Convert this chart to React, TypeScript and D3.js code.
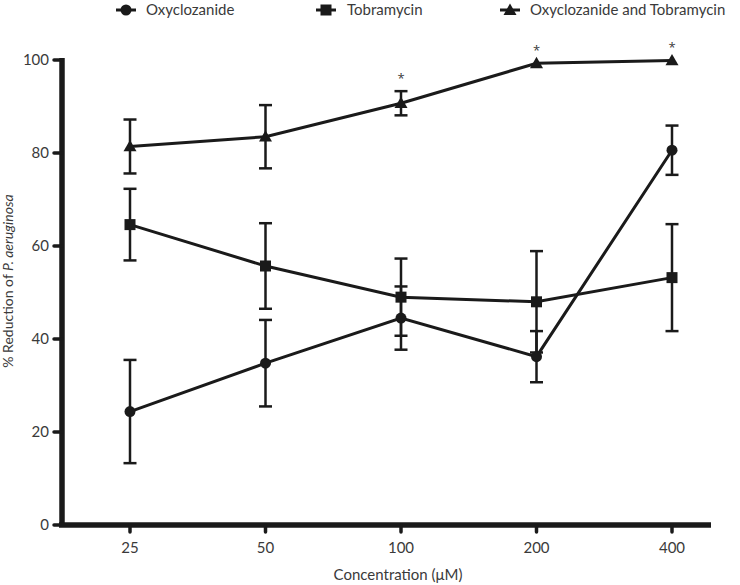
import React from "react";
import * as d3 from "d3";

const concentrations = ["25", "50", "100", "200", "400"];
const oxyMean = [24.4, 34.8, 44.5, 36.2, 80.6];
const oxyErr = [11.1, 9.3, 6.8, 5.5, 5.3];
const tobMean = [64.6, 55.7, 49.0, 48.0, 53.2];
const tobErr = [7.7, 9.2, 8.3, 10.9, 11.5];
const comboMean = [81.4, 83.5, 90.7, 99.3, 99.9];
const comboErr = [5.8, 6.8, 2.6, 0, 0];
const significant = [false, false, true, true, true];
const yTicks = [0, 20, 40, 60, 80, 100];

const W = 740;
const H = 585;
const FONT = "Lato, 'Open Sans', sans-serif";
const INK = "#1a1a1a";
const TXT = "#3a3a3a";

type Shape = "circle" | "square" | "triangle";

function Marker({ shape, x, y }: { shape: Shape; x: number; y: number }) {
  if (shape === "circle") return <circle cx={x} cy={y} r={5.5} fill={INK} />;
  if (shape === "square")
    return <rect x={x - 5.5} y={y - 5.5} width={11} height={11} fill={INK} />;
  const s = 6.5;
  return (
    <path
      d={`M${x},${y - s} L${x + s},${y + s * 0.75} L${x - s},${y + s * 0.75} Z`}
      fill={INK}
    />
  );
}

export default function App() {
  const x = d3.scalePoint<string>().domain(concentrations).range([130, 672]);
  const y = d3.scaleLinear().domain([0, 100]).range([525, 60]);
  const line = d3
    .line<number>()
    .x((_, i) => x(concentrations[i]) as number)
    .y((d) => y(d));

  const series: { name: string; mean: number[]; err: number[]; shape: Shape }[] = [
    { name: "Oxyclozanide", mean: oxyMean, err: oxyErr, shape: "circle" },
    { name: "Tobramycin", mean: tobMean, err: tobErr, shape: "square" },
    { name: "Oxyclozanide and Tobramycin", mean: comboMean, err: comboErr, shape: "triangle" },
  ];

  const legendPos = [
    { mx: 126, tx: 146 },
    { mx: 326, tx: 347 },
    { mx: 510, tx: 530 },
  ];

  return (
    <svg
      width={W}
      height={H}
      style={{ position: "absolute", left: 0, top: 0, background: "#fff" }}
      fontFamily={FONT}
    >
      {/* legend */}
      {series.map((s, i) => (
        <g key={s.name}>
          <line
            x1={legendPos[i].mx - 10}
            x2={legendPos[i].mx + 10}
            y1={10}
            y2={10}
            stroke={INK}
            strokeWidth={3}
          />
          <Marker shape={s.shape} x={legendPos[i].mx} y={10} />
          <text x={legendPos[i].tx} y={15} fontSize={15} fill={TXT}>
            {s.name}
          </text>
        </g>
      ))}

      {/* error bars */}
      {series.map((s) =>
        s.mean.map((m, i) => {
          const e = s.err[i];
          if (!e) return null;
          const cx = x(concentrations[i]) as number;
          return (
            <g key={s.name + i} stroke={INK} strokeWidth={2.5}>
              <line x1={cx} x2={cx} y1={y(m - e)} y2={y(m + e)} />
              <line x1={cx - 6.5} x2={cx + 6.5} y1={y(m - e)} y2={y(m - e)} />
              <line x1={cx - 6.5} x2={cx + 6.5} y1={y(m + e)} y2={y(m + e)} />
            </g>
          );
        })
      )}

      {/* lines */}
      {series.map((s) => (
        <path
          key={s.name + "line"}
          d={line(s.mean) as string}
          fill="none"
          stroke={INK}
          strokeWidth={3}
        />
      ))}

      {/* markers */}
      {series.map((s) =>
        s.mean.map((m, i) => (
          <Marker key={s.name + "m" + i} shape={s.shape} x={x(concentrations[i]) as number} y={y(m)} />
        ))
      )}

      {/* significance stars */}
      {comboMean.map((m, i) =>
        significant[i] ? (
          <text
            key={"star" + i}
            x={x(concentrations[i]) as number}
            y={y(m + comboErr[i]) - 8}
            fontSize={13}
            fontFamily="'Open Sans', sans-serif"
            textAnchor="middle"
            fill={TXT}
          >
            *
          </text>
        ) : null
      )}

      {/* y axis */}
      <line x1={62} x2={62} y1={y(100) - 2} y2={y(0)} stroke={INK} strokeWidth={5.5} />
      {yTicks.map((t) => (
        <g key={"yt" + t}>
          <line x1={54} x2={62} y1={y(t)} y2={y(t)} stroke={INK} strokeWidth={3.5} strokeLinecap="round" />
          <text x={49} y={y(t) + 5} fontSize={15} textAnchor="end" fill={TXT}>
            {t}
          </text>
        </g>
      ))}

      {/* x axis */}
      <line x1={59} x2={711} y1={y(0)} y2={y(0)} stroke={INK} strokeWidth={5.5} />
      {concentrations.map((c) => (
        <g key={"xt" + c}>
          <line
            x1={x(c) as number}
            x2={x(c) as number}
            y1={y(0)}
            y2={y(0) + 7}
            stroke={INK}
            strokeWidth={3.5}
            strokeLinecap="round"
          />
          <text x={x(c) as number} y={553} fontSize={15} textAnchor="middle" fill={TXT}>
            {c}
          </text>
        </g>
      ))}

      <text x={398} y={580} fontSize={15} textAnchor="middle" fill={TXT}>
        Concentration (μM)
      </text>
      <text
        transform={`translate(13, 281) rotate(-90)`}
        fontSize={14}
        textAnchor="middle"
        fill={TXT}
      >
        % Reduction of <tspan fontStyle="italic">P. aeruginosa</tspan>
      </text>
    </svg>
  );
}
